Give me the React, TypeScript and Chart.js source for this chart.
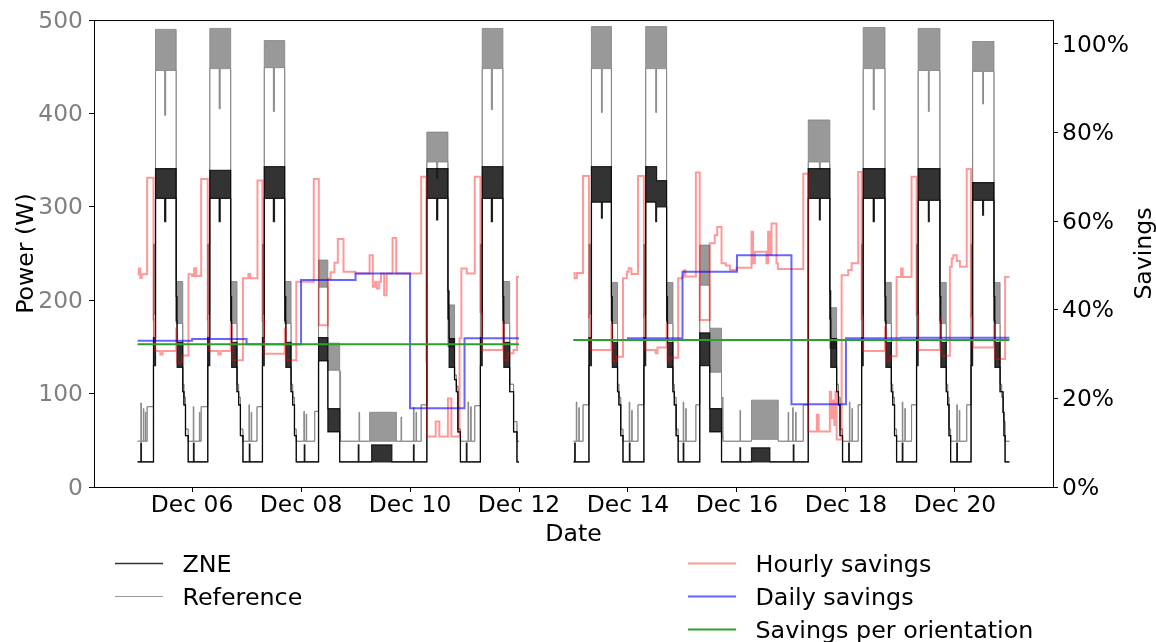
import React, { useEffect, useRef } from "react";
import { Chart, registerables } from "chart.js";

Chart.register(...registerables);

const FONT = "'DejaVu Sans', sans-serif";

// ---- step data: [hour of day, low, high?] ----
// Reference power (W)
const ref05 = [[0,49],[1.4,49,90],[1.7,49],[2.5,49,84],[2.8,49],[3.4,49,80],[3.7,49],[4.2,86],[7.0,185,260],[7.9,446,490],[11.9,398,490],[12.4,446,490],[17.0,175,220],[19.9,110],[20.4,96],[21.1,62],[22.3,49]];
const ref06 = [[0,49],[0.5,49,86],[0.8,49],[3.2,49,80],[3.5,49],[4.0,86],[6.9,185,260],[7.8,448,491],[11.9,405,491],[12.4,448,491],[17.0,175,220],[19.8,110],[20.5,96],[21.3,62],[22.4,49]];
const ref07 = [[0,49],[1.0,49,88],[1.3,49],[2.0,49,80],[2.3,49],[4.6,86],[7.0,185,260],[7.8,449,478],[11.8,402,478],[12.3,449,478],[16.8,175,220],[19.6,110],[20.3,96],[21.1,62],[21.9,49]];
const ref08 = [[0,49],[1.2,49,81],[1.5,49],[2.2,49,78],[2.5,49],[6.0,81],[7.7,214,243],[11.8,125,154],[17.0,80,124],[17.4,49]];
const ref09 = [[0,49],[1.5,49,80],[1.8,49],[6.2,49,80],[18.0,49],[20.0,49,75],[20.3,49]];
const ref10 = [[0,49],[1.5,49,85],[1.8,49],[2.6,49,80],[2.9,49],[4.9,88],[7.4,348,380],[11.7,330,380],[12.2,348,380],[16.7,150,195],[19.6,120],[20.4,108],[21.1,62],[22.2,49]];
const ref11 = [[0,49],[1.5,49,91],[1.8,49],[2.6,49,86],[3.0,49],[4.5,87],[7.0,185,260],[7.8,448,491],[11.8,404,491],[12.3,448,491],[16.9,175,220],[19.9,110],[21.6,70],[23.1,49]];
const ref13 = [[0,49],[1.2,49,91],[1.5,49],[2.3,49,85],[2.6,49],[4.2,88],[6.8,185,260],[7.9,448,493],[12.3,401,493],[12.7,448,493],[16.7,175,219],[19.4,110],[20.0,96],[20.8,62],[21.8,49]];
const ref14 = [[0,49],[0.5,49,91],[0.8,49],[1.6,49,82],[1.9,49],[4.4,88],[7.0,185,260],[7.8,448,493],[12.2,401,493],[12.6,448,493],[17.0,175,219],[19.8,110],[20.4,96],[21.2,62],[22.1,49]];
const ref15 = [[0,49],[0.3,49,91],[0.6,49],[1.4,49,84],[1.7,49],[5.9,88],[7.6,216,259],[12.0,123,170],[17.2,53,96],[17.9,49]];
const ref16 = [[0,49],[1.3,49,82],[1.6,49],[6.4,51,93],[18.2,49],[22.5,49,80],[22.8,49]];
const ref17 = [[0,49],[0.5,49,85],[0.8,49],[1.8,49,80],[2.1,49],[5.2,88],[7.4,348,393],[12.3,340,393],[12.7,348,393],[16.9,148,192],[19.9,110],[20.7,96],[21.4,62],[22.5,49]];
const ref18 = [[0,49],[1.5,49,91],[1.8,49],[2.6,49,84],[2.9,49],[5.4,88],[6.9,185,260],[7.6,448,492],[12.0,404,492],[12.5,448,492],[17.2,175,219],[20.0,110],[20.6,96],[21.4,62],[22.3,49]];
const ref19 = [[0,49],[0.8,49,91],[1.1,49],[1.9,49,84],[2.2,49],[4.9,88],[7.1,185,260],[7.8,446,491],[12.3,402,491],[12.7,446,491],[17.4,175,219],[20.2,110],[20.8,96],[21.4,62],[22.1,49]];
const ref20 = [[0,49],[0.8,49,88],[1.1,49],[1.9,49,82],[2.2,49],[5.2,88],[7.1,185,260],[7.8,445,477],[12.2,410,477],[12.6,445,477],[17.2,175,219],[19.9,110],[20.6,96],[21.4,70],[22.1,49]];

// ZNE power (W)
const zne05 = [[0,27],[1.4,27,47],[1.7,27],[7.0,130,160],[7.9,309,341],[11.9,284,341],[12.4,309,341],[17.0,178,204],[17.4,128,155],[19.9,102],[20.4,88],[21.1,55],[22.3,27]];
const zne06 = [[0,27],[0.6,27,47],[0.9,27],[6.9,130,160],[7.8,309,339],[11.9,284,339],[12.4,309,339],[17.0,178,204],[17.4,128,155],[19.8,102],[20.5,88],[21.3,55],[22.4,27]];
const zne07 = [[0,27],[1.2,27,46],[1.5,27],[7.0,130,160],[7.8,309,343],[11.8,284,343],[12.3,309,343],[16.8,178,204],[17.3,128,155],[19.6,102],[20.3,88],[21.1,55],[21.9,27]];
const zne08 = [[0,27],[1.4,27,45],[1.7,27],[7.7,135,160],[11.8,59,84],[17.0,27]];
const zne09 = [[0,27],[1.2,27,45],[1.5,27],[7.1,27,45],[16.0,27]];
const zne10 = [[0,27],[1.5,27,45],[1.8,27],[7.4,309,341],[11.7,286,341],[12.2,309,341],[16.7,180,210],[17.2,128,159],[19.6,115],[20.4,102],[21.1,59],[22.2,27]];
const zne11 = [[0,27],[0.8,27,47],[1.1,27],[7.0,130,160],[7.8,309,343],[11.8,284,343],[12.3,309,343],[16.9,178,204],[17.3,128,155],[19.9,102],[21.6,59],[23.1,27]];
const zne13 = [[0,27],[0.5,27,47],[0.8,27],[6.8,130,160],[7.9,305,343],[12.3,288,343],[12.7,305,343],[16.7,178,204],[17.1,128,155],[19.4,102],[20.0,88],[20.8,55],[21.8,27]];
const zne14 = [[0,27],[0.6,27,47],[0.9,27],[7.0,130,160],[7.8,305,343],[12.2,284,343],[12.6,300,328],[17.0,178,204],[17.4,128,155],[19.8,102],[20.4,88],[21.2,55],[22.1,27]];
const zne15 = [[0,27],[0.3,27,47],[0.6,27],[7.6,130,165],[12.0,59,84],[17.2,27]];
const zne16 = [[0,27],[1.3,27,42],[1.6,27],[6.4,27,42],[14.5,27]];
const zne17 = [[0,27],[0.8,27,45],[1.1,27],[7.4,309,341],[12.3,286,341],[12.7,309,341],[16.9,180,210],[17.3,128,159],[19.9,102],[20.7,88],[21.4,55],[22.5,27]];
const zne18 = [[0,27],[1.2,27,47],[1.5,27],[6.9,130,160],[7.6,309,341],[12.0,284,341],[12.5,309,341],[17.2,178,204],[17.6,128,155],[20.0,102],[20.6,88],[21.4,55],[22.3,27]];
const zne19 = [[0,27],[0.8,27,47],[1.1,27],[7.1,130,160],[7.8,307,341],[12.3,284,341],[12.7,307,341],[17.4,178,204],[17.8,128,155],[20.2,102],[20.8,88],[21.4,55],[22.1,27]];
const zne20 = [[0,27],[0.8,27,47],[1.1,27],[7.1,130,160],[7.8,307,326],[12.2,291,326],[12.6,307,326],[17.2,178,204],[17.6,128,155],[19.9,102],[21.2,80],[21.6,55],[22.1,27]];

// Hourly savings (%)
const hs05 = [[0,48.0],[0.6,49.3],[1.2,47.2],[1.8,48.0],[4.2,69.8],[7.0,37.8],[7.6,30.7],[10.0,29.9],[11.0,30.7],[17.0,35.8],[17.4,28.1],[19.6,29.7],[22.4,48.0]];
const hs06 = [[0,47.6],[0.9,49.4],[1.8,47.6],[4.0,69.5],[6.9,37.8],[7.4,30.7],[11.6,29.9],[12.6,30.7],[17.0,36.5],[17.5,28.6],[22.4,47.1]];
const hs07 = [[0,47.1],[0.8,48.1],[1.5,47.1],[4.8,69.2],[7.0,37.5],[7.6,30.1],[16.8,35.8],[17.3,28.6],[21.9,46.3]];
const hs08 = [[0,46.3],[5.6,69.5],[7.8,36.5],[11.8,47.0],[13.0,48.5],[14.7,50.6],[16.2,56.0],[18.7,48.6]];
const hs09 = [[0,48.2],[6.2,52.3],[7.6,45.2],[8.6,46.3],[9.4,44.8],[10.4,46.3],[11.2,48.2],[12.6,43.3],[13.7,48.2],[16.3,56.2],[17.9,48.2]];
const hs10 = [[0,48.2],[4.9,70.0],[7.2,28.3],[7.5,11.4],[11.3,14.8],[12.9,11.4],[16.7,20.0],[18.2,11.4],[21.8,33.6],[22.6,49.3]];
const hs11 = [[0,49.3],[1.0,48.2],[4.5,70.0],[7.0,39.5],[7.6,30.9],[16.9,36.9],[17.3,28.6],[19.1,30.2],[21.6,30.9],[23.1,47.4]];
const hs13 = [[0,48.3],[0.5,47.1],[1.5,48.3],[4.2,70.2],[6.8,38.3],[7.6,30.9],[16.7,36.6],[17.1,28.4],[19.2,29.4],[21.8,47.1],[23.5,48.6]];
const hs14 = [[0,48.6],[0.3,49.4],[1.5,48.1],[4.4,70.2],[7.0,38.3],[7.6,30.9],[12.2,30.2],[13.0,31.5],[17.0,36.6],[17.4,28.4],[18.4,29.2],[22.1,47.1]];
const hs15 = [[0,47.5],[0.6,48.9],[1.3,47.5],[5.9,71.0],[7.6,37.7],[12.0,55.0],[14.2,56.8],[15.3,58.7],[17.2,50.5],[19.1,50.0],[20.9,49.0],[23.8,49.5]];
const hs16 = [[0,49.5],[6.4,57.6],[7.1,50.5],[7.9,53.1],[13.0,50.5],[13.7,57.6],[14.5,52.5],[15.2,59.5],[17.4,50.5],[18.0,49.2]];
const hs17 = [[0,49.2],[5.2,70.7],[7.4,12.5],[11.2,16.3],[12.0,12.5],[16.9,21.5],[17.5,15.5],[18.2,19.5],[18.9,14.0],[19.4,21.5],[19.9,10.7],[22.1,47.8]];
const hs18 = [[0,47.8],[1.0,49.0],[2.5,50.5],[5.4,71.1],[6.9,37.8],[7.6,30.7],[17.2,36.0],[17.6,28.4],[19.6,29.5],[22.3,47.4]];
const hs19 = [[0,47.4],[0.3,49.3],[1.0,47.4],[4.9,70.0],[7.1,38.8],[7.8,30.9],[17.4,38.1],[17.8,29.6],[21.8,49.7],[22.6,51.6],[23.3,52.3]];
const hs20 = [[0,52.3],[0.8,51.0],[2.2,49.7],[5.2,71.8],[7.1,38.5],[7.8,31.5],[17.2,36.6],[17.6,28.9],[22.1,47.4]];

// Days (hours since Dec 05 00:00)
const dayOffsets = [0, 24, 48, 72, 96, 120, 144, 192, 216, 240, 264, 288, 312, 336, 360];
const refDays = [ref05, ref06, ref07, ref08, ref09, ref10, ref11, ref13, ref14, ref15, ref16, ref17, ref18, ref19, ref20];
const zneDays = [zne05, zne06, zne07, zne08, zne09, zne10, zne11, zne13, zne14, zne15, zne16, zne17, zne18, zne19, zne20];
const hourlyDays = [hs05, hs06, hs07, hs08, hs09, hs10, hs11, hs13, hs14, hs15, hs16, hs17, hs18, hs19, hs20];
const dailySavings = [33.0, 33.4, 32.2, 46.7, 48.2, 17.8, 33.6, 33.2, 33.6, 48.6, 52.3, 18.7, 33.6, 33.7, 33.7];
const orientationSavings = [32.2, 33.2];

const xTickHours = [24, 72, 120, 168, 216, 264, 312, 360];
const xTickLabels = ["Dec 06", "Dec 08", "Dec 10", "Dec 12", "Dec 14", "Dec 16", "Dec 18", "Dec 20"];
const y2Ticks = [0, 20, 40, 60, 80, 100];

type Pt = { x: number; y: number | null };

function buildSeries(days: number[][][], hi: boolean): Pt[] {
  const pts: Pt[] = [];
  for (let i = 0; i < dayOffsets.length; i++) {
    const off = dayOffsets[i];
    if (i > 0 && off !== dayOffsets[i - 1] + 24) {
      const last = pts[pts.length - 1];
      const end = dayOffsets[i - 1] + 24;
      pts.push({ x: end, y: last.y });
      pts.push({ x: (end + off) / 2, y: null });
    }
    for (const s of days[i]) {
      const y = hi && s.length > 2 ? s[2] : s[1];
      pts.push({ x: off + s[0], y });
    }
  }
  const last = pts[pts.length - 1];
  pts.push({ x: dayOffsets[dayOffsets.length - 1] + 24, y: last.y });
  return pts;
}

function buildOrientation(): Pt[] {
  const blocks: number[][] = [];
  let start = dayOffsets[0];
  for (let i = 1; i <= dayOffsets.length; i++) {
    if (i === dayOffsets.length || dayOffsets[i] !== dayOffsets[i - 1] + 24) {
      blocks.push([start, dayOffsets[i - 1] + 24]);
      if (i < dayOffsets.length) start = dayOffsets[i];
    }
  }
  const pts: Pt[] = [];
  blocks.forEach((b, k) => {
    if (k > 0) pts.push({ x: (blocks[k - 1][1] + b[0]) / 2, y: null });
    pts.push({ x: b[0], y: orientationSavings[k] });
    pts.push({ x: b[1], y: orientationSavings[k] });
  });
  return pts;
}

const ZNE_COLOR = "rgba(0,0,0,0.8)";
const REF_COLOR = "rgba(128,128,128,0.8)";
const HOURLY_COLOR = "rgba(255,0,0,0.4)";
const DAILY_COLOR = "rgba(0,0,255,0.6)";
const ORIENT_COLOR = "#2ca02c";

const decorPlugin = {
  id: "decor",
  afterDraw(chart: any) {
    const { ctx, chartArea } = chart;
    ctx.save();
    ctx.strokeStyle = "#000";
    ctx.lineWidth = 1;
    ctx.strokeRect(chartArea.left + 0.5, chartArea.top + 0.5, chartArea.right - chartArea.left, chartArea.bottom - chartArea.top);
    ctx.fillStyle = "#000";
    ctx.font = `23.6px ${FONT}`;
    const midY = (chartArea.top + chartArea.bottom) / 2;
    ctx.textAlign = "center";
    ctx.textBaseline = "alphabetic";
    ctx.save();
    ctx.translate(32.5, midY);
    ctx.rotate(-Math.PI / 2);
    ctx.fillText("Power (W)", 0, 0);
    ctx.restore();
    ctx.save();
    ctx.translate(1151, midY);
    ctx.rotate(-Math.PI / 2);
    ctx.fillText("Savings", 0, 0);
    ctx.restore();
    ctx.fillText("Date", (chartArea.left + chartArea.right) / 2, 540.5);
    const items = [
      { x: 115, y: 563.5, label: "ZNE", color: ZNE_COLOR, w: 1.5 },
      { x: 115, y: 596.5, label: "Reference", color: REF_COLOR, w: 1 },
      { x: 688, y: 563.5, label: "Hourly savings", color: HOURLY_COLOR, w: 2 },
      { x: 688, y: 596.5, label: "Daily savings", color: DAILY_COLOR, w: 2 },
      { x: 688, y: 629.5, label: "Savings per orientation", color: ORIENT_COLOR, w: 2 },
    ];
    ctx.font = `23.8px ${FONT}`;
    ctx.textAlign = "left";
    for (const it of items) {
      ctx.strokeStyle = it.color;
      ctx.lineWidth = it.w;
      ctx.beginPath();
      ctx.moveTo(it.x, it.y);
      ctx.lineTo(it.x + 48, it.y);
      ctx.stroke();
      ctx.fillStyle = "#000";
      ctx.fillText(it.label, it.x + 67.5, it.y + 8.6);
    }
    ctx.restore();
  },
};

export default function App() {
  const ref = useRef<HTMLCanvasElement | null>(null);
  useEffect(() => {
    document.body.style.margin = "0";
    const canvas = ref.current;
    if (!canvas) return;
    const tickFont = { family: FONT, size: 23.4 };
    const lineBase = { pointRadius: 0, pointHoverRadius: 0, stepped: true, tension: 0, spanGaps: false };
    const chart = new Chart(canvas, {
      type: "line",
      data: {
        datasets: [
          { ...lineBase, label: "Savings per orientation", data: buildOrientation(), yAxisID: "y2", borderColor: ORIENT_COLOR, borderWidth: 2, fill: false },
          { ...lineBase, label: "Daily savings", data: buildSeries(dailySavings.map((v) => [[0, v]]), false), yAxisID: "y2", borderColor: DAILY_COLOR, borderWidth: 2, fill: false },
          { ...lineBase, label: "Hourly savings", data: buildSeries(hourlyDays, false), yAxisID: "y2", borderColor: HOURLY_COLOR, borderWidth: 2, fill: false },
          { ...lineBase, label: "ZNE", data: buildSeries(zneDays, true), yAxisID: "y", borderColor: ZNE_COLOR, backgroundColor: ZNE_COLOR, borderWidth: 1.2, fill: "+1" },
          { ...lineBase, label: "ZNE low", data: buildSeries(zneDays, false), yAxisID: "y", borderColor: ZNE_COLOR, borderWidth: 1.2, fill: false },
          { ...lineBase, label: "Reference", data: buildSeries(refDays, true), yAxisID: "y", borderColor: REF_COLOR, backgroundColor: REF_COLOR, borderWidth: 1, fill: "+1" },
          { ...lineBase, label: "Reference low", data: buildSeries(refDays, false), yAxisID: "y", borderColor: REF_COLOR, borderWidth: 1, fill: false },
        ] as any,
      },
      options: {
        responsive: false,
        animation: false,
        devicePixelRatio: 1,
        events: [],
        layout: { padding: { top: 20, left: 0, right: 0, bottom: 95 } },
        plugins: { legend: { display: false }, tooltip: { enabled: false } },
        scales: {
          x: {
            type: "linear",
            min: -19.2,
            max: 403.2,
            afterBuildTicks: (s: any) => {
              s.ticks = xTickHours.map((v) => ({ value: v }));
            },
            afterFit: (s: any) => {
              s.height = 60;
            },
            ticks: {
              autoSkip: false,
              maxRotation: 0,
              padding: 0,
              color: "#000",
              font: tickFont,
              callback: (v: any) => xTickLabels[xTickHours.indexOf(Number(v))] ?? "",
            },
            grid: { drawOnChartArea: false, tickLength: 5, tickColor: "#000", tickWidth: 1 },
            border: { display: false },
          },
          y: {
            position: "left",
            min: 0,
            max: 500,
            afterFit: (s: any) => {
              s.width = 94;
            },
            ticks: { stepSize: 100, color: "#808080", font: tickFont, padding: 6, labelOffset: 1.5 },
            grid: { drawOnChartArea: false, tickLength: 5, tickColor: "#000", tickWidth: 1 },
            border: { display: false },
          },
          y2: {
            position: "right",
            min: 0,
            max: 105.4,
            afterBuildTicks: (s: any) => {
              s.ticks = y2Ticks.map((v) => ({ value: v }));
            },
            afterFit: (s: any) => {
              s.width = 103;
            },
            ticks: { color: "#000", font: tickFont, padding: 4, labelOffset: 1.5, callback: (v: any) => `${v}%` },
            grid: { drawOnChartArea: false, tickLength: 5, tickColor: "#000", tickWidth: 1 },
            border: { display: false },
          },
        },
      } as any,
      plugins: [decorPlugin],
    });
    return () => chart.destroy();
  }, []);
  return <canvas ref={ref} width={1156} height={642} style={{ display: "block", width: 1156, height: 642 }} />;
}
